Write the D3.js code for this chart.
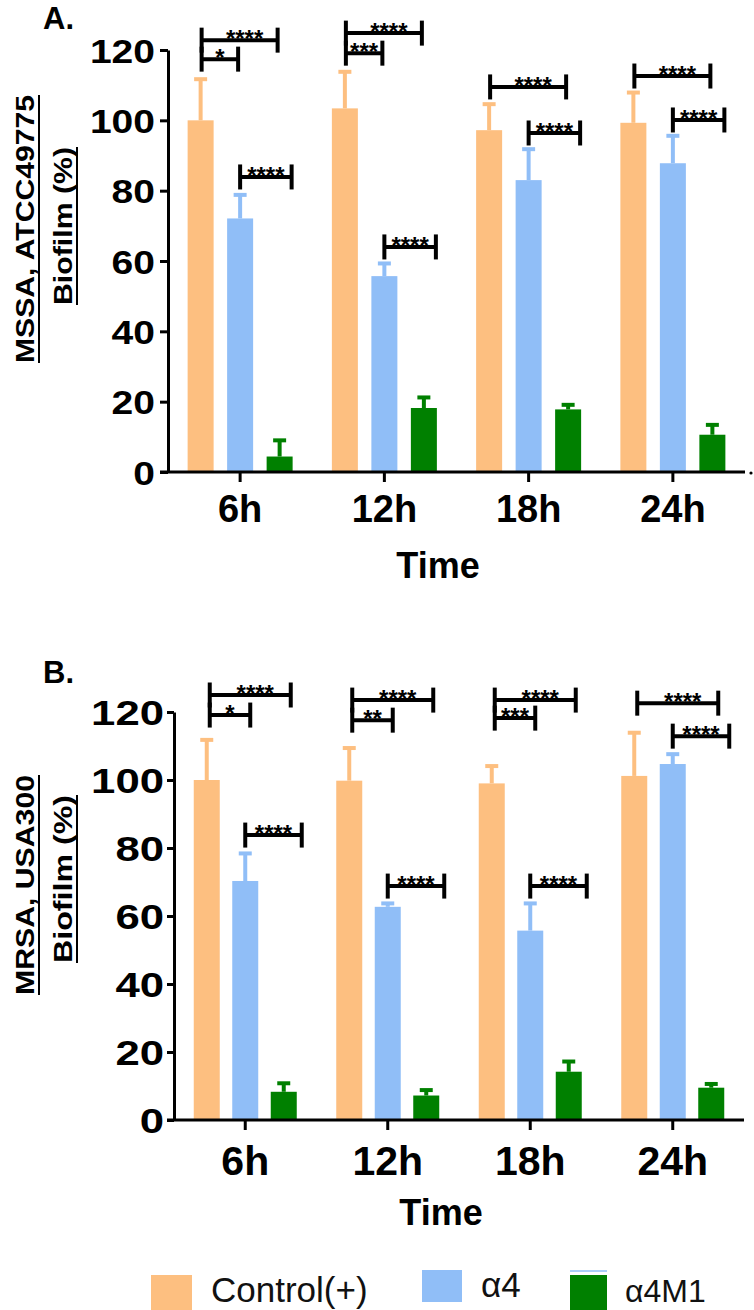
<!DOCTYPE html>
<html>
<head>
<meta charset="utf-8">
<script src="https://cdn.jsdelivr.net/npm/d3@7"></script>
<style>
  html, body { margin: 0; padding: 0; background: #fff; }
  svg { display: block; }
  text { font-family: "Liberation Sans", Arial, Helvetica, sans-serif; }
</style>
</head>
<body>
<div id="chart"></div>
<script>
// ---------------- DATA ----------------
const times = ["6h", "12h", "18h", "24h"];
const seriesNames = ["Control(+)", "\u03B14", "\u03B14M1"];
const seriesColors = ["#FDBF80", "#90BEF7", "#008000"];
const yTicks = [0, 20, 40, 60, 80, 100, 120];

// Panel A: MSSA, ATCC49775
const mssaControl    = [100.0, 103.4, 97.2, 99.3];
const mssaControlErr = [11.7, 10.4, 7.4, 8.6];
const mssaA4         = [72.1, 55.7, 83.0, 87.8];
const mssaA4Err      = [6.7, 3.6, 8.8, 7.8];
const mssaA4M1       = [4.4, 18.2, 17.8, 10.6];
const mssaA4M1Err    = [4.6, 3.0, 1.3, 2.8];

// Panel B: MRSA, USA300
const mrsaControl    = [100.0, 99.8, 99.0, 101.2];
const mrsaControlErr = [11.8, 9.6, 5.1, 12.7];
const mrsaA4         = [70.3, 62.7, 55.7, 104.7];
const mrsaA4Err      = [8.1, 1.0, 8.0, 2.9];
const mrsaA4M1       = [8.3, 7.2, 14.2, 9.5];
const mrsaA4M1Err    = [2.5, 1.6, 3.0, 1.1];

// significance brackets: group, series from -> to, height (value units), label
const mssaBrackets = [
  { time: "6h",  from: 0, to: 2, y: 122.8, label: "****" },
  { time: "6h",  from: 0, to: 1, y: 117.4, label: "*" },
  { time: "6h",  from: 1, to: 2, y: 83.9,  label: "****" },
  { time: "12h", from: 0, to: 2, y: 124.8, label: "****" },
  { time: "12h", from: 0, to: 1, y: 119.1, label: "***" },
  { time: "12h", from: 1, to: 2, y: 64.0,  label: "****" },
  { time: "18h", from: 0, to: 2, y: 109.5, label: "****" },
  { time: "18h", from: 1, to: 2, y: 96.4,  label: "****" },
  { time: "24h", from: 0, to: 2, y: 112.6, label: "****" },
  { time: "24h", from: 1, to: 2, y: 100.1, label: "****" }
];
const mrsaBrackets = [
  { time: "6h",  from: 0, to: 2, y: 125.0, label: "****" },
  { time: "6h",  from: 0, to: 1, y: 119.1, label: "*" },
  { time: "6h",  from: 1, to: 2, y: 83.8,  label: "****" },
  { time: "12h", from: 0, to: 2, y: 123.5, label: "****" },
  { time: "12h", from: 0, to: 1, y: 117.6, label: "**" },
  { time: "12h", from: 1, to: 2, y: 68.8,  label: "****" },
  { time: "18h", from: 0, to: 2, y: 123.5, label: "****" },
  { time: "18h", from: 0, to: 1, y: 118.2, label: "***" },
  { time: "18h", from: 1, to: 2, y: 68.8,  label: "****" },
  { time: "24h", from: 0, to: 2, y: 122.6, label: "****" },
  { time: "24h", from: 1, to: 2, y: 112.9, label: "****" }
];

// ---------------- DRAWING ----------------
const W = 754, H = 1310;
const svg = d3.select("#chart").append("svg")
  .attr("width", W).attr("height", H)
  .attr("viewBox", `0 0 ${W} ${H}`);
svg.append("rect").attr("width", W).attr("height", H).attr("fill", "#fff");

function drawPanel(cfg) {
  const g = svg.append("g");
  const x = d3.scaleBand().domain(times).range([cfg.x0, cfg.x1]);
  const y = d3.scaleLinear().domain([0, 120]).range([cfg.yZero, cfg.yTop]);
  const cx = t => x(t) + x.bandwidth() / 2;
  const sx = (t, i) => cx(t) + (i - 1) * cfg.off;

  const series = [
    { mean: cfg.s0, err: cfg.e0 },
    { mean: cfg.s1, err: cfg.e1 },
    { mean: cfg.s2, err: cfg.e2 }
  ];

  // error bars (upper only)
  series.forEach((s, i) => {
    const eg = g.append("g").attr("stroke", seriesColors[i]).attr("stroke-width", 4);
    eg.selectAll("line.stem").data(times).join("line")
      .attr("class", "stem")
      .attr("x1", (t) => sx(t, i)).attr("x2", (t) => sx(t, i))
      .attr("y1", (t, j) => y(s.mean[j]))
      .attr("y2", (t, j) => y(s.mean[j] + s.err[j]));
    eg.selectAll("line.cap").data(times).join("line")
      .attr("class", "cap")
      .attr("x1", (t) => sx(t, i) - 6.5).attr("x2", (t) => sx(t, i) + 6.5)
      .attr("y1", (t, j) => y(s.mean[j] + s.err[j]))
      .attr("y2", (t, j) => y(s.mean[j] + s.err[j]));
  });

  // bars
  series.forEach((s, i) => {
    g.append("g").selectAll("rect").data(times).join("rect")
      .attr("x", (t) => sx(t, i) - cfg.bw / 2)
      .attr("width", cfg.bw)
      .attr("y", (t, j) => y(s.mean[j]))
      .attr("height", (t, j) => y(0) - y(s.mean[j]))
      .attr("fill", seriesColors[i]);
  });

  // y axis
  const ya = g.append("g").attr("transform", `translate(${cfg.x0},0)`)
    .call(d3.axisLeft(y).tickValues(yTicks).tickSize(cfg.tickLen).tickSizeOuter(0).tickPadding(cfg.pad));
  ya.select(".domain").attr("stroke", "#000").attr("stroke-width", 3);
  ya.selectAll(".tick line").attr("stroke", "#000").attr("stroke-width", 3);
  ya.selectAll(".tick text")
    .attr("fill", "#000")
    .attr("font-size", cfg.yFont)
    .attr("font-weight", "bold")
    .attr("dy", "0.36em")
    .attr("textLength", d => String(d).length * cfg.digitW)
    .attr("lengthAdjust", "spacingAndGlyphs");

  // x axis
  g.append("line")
    .attr("x1", cfg.x0 - cfg.tickLen).attr("x2", cfg.x1)
    .attr("y1", cfg.yZero).attr("y2", cfg.yZero)
    .attr("stroke", "#000").attr("stroke-width", 3);
  const xa = g.append("g").attr("transform", `translate(0,${cfg.yZero})`)
    .call(d3.axisBottom(x).tickSize(10).tickSizeOuter(0));
  xa.select(".domain").remove();
  xa.selectAll(".tick line").attr("stroke", "#000").attr("stroke-width", 3);
  xa.selectAll(".tick text")
    .attr("fill", "#000")
    .attr("font-size", cfg.xFont)
    .attr("font-weight", "bold")
    .attr("y", cfg.xLabDy).attr("dy", 0);

  if (cfg.dot) {
    g.append("circle").attr("cx", cfg.x1 + 6).attr("cy", cfg.yZero + 1).attr("r", 1.6).attr("fill", "#000");
  }

  // x title
  g.append("text")
    .attr("x", cfg.timeX).attr("y", cfg.timeY)
    .attr("text-anchor", "middle")
    .attr("font-size", 36).attr("font-weight", "bold")
    .text("Time");

  // y title (two underlined lines)
  cfg.yTitle.forEach((ln) => {
    g.append("text")
      .attr("transform", `translate(${ln.bx},${ln.cy}) rotate(-90)`)
      .attr("text-anchor", "middle")
      .attr("font-size", 26).attr("font-weight", "bold")
      .attr("textLength", ln.len).attr("lengthAdjust", "spacingAndGlyphs")
      .text(ln.text);
    g.append("line")
      .attr("x1", ln.bx + 5).attr("x2", ln.bx + 5)
      .attr("y1", ln.cy - ln.len / 2).attr("y2", ln.cy + ln.len / 2)
      .attr("stroke", "#000").attr("stroke-width", 2);
  });

  // panel letter
  g.append("text")
    .attr("x", 43).attr("y", cfg.letterY)
    .attr("font-size", 31).attr("font-weight", "bold")
    .text(cfg.letter);

  // significance brackets
  const bg = g.append("g");
  cfg.brackets.forEach(b => {
    let xl, xr;
    if (b.from === 0) {
      xl = sx(b.time, 0) + cfg.bl;
      xr = b.to === 2 ? sx(b.time, 2) + cfg.bUpper : sx(b.time, 1) + cfg.bInner;
    } else {
      xl = sx(b.time, 1);
      xr = sx(b.time, 2) + cfg.bLower;
    }
    const yy = y(b.y);
    const h = 12.5;
    bg.append("line").attr("x1", xl).attr("x2", xr).attr("y1", yy).attr("y2", yy)
      .attr("stroke", "#000").attr("stroke-width", 4);
    bg.append("line").attr("x1", xl).attr("x2", xl).attr("y1", yy - h).attr("y2", yy + h)
      .attr("stroke", "#000").attr("stroke-width", 4);
    bg.append("line").attr("x1", xr).attr("x2", xr).attr("y1", yy - h).attr("y2", yy + h)
      .attr("stroke", "#000").attr("stroke-width", 4);
    const shift = (b.from === 0 && b.to === 2) ? 5 : 0;
    bg.append("text")
      .attr("x", (xl + xr) / 2 + shift).attr("y", yy + 7)
      .attr("text-anchor", "middle")
      .attr("font-size", 24).attr("font-weight", "bold")
      .text(b.label);
  });
}

drawPanel({
  x0: 168, x1: 745, yZero: 472, yTop: 50, off: 39.5, bw: 26,
  tickLen: 8, pad: 5, yFont: 34, digitW: 21.7, xFont: 38, xLabDy: 50,
  timeX: 438, timeY: 578, dot: true,
  s0: mssaControl, e0: mssaControlErr, s1: mssaA4, e1: mssaA4Err, s2: mssaA4M1, e2: mssaA4M1Err,
  yTitle: [
    { text: "MSSA, ATCC49775", bx: 34, cy: 229, len: 268 },
    { text: "Biofilm (%)", bx: 72, cy: 226, len: 158 }
  ],
  letter: "A.", letterY: 29,
  brackets: mssaBrackets, bl: 1, bUpper: -2, bInner: -2, bLower: 12
});

drawPanel({
  x0: 174, x1: 744, yZero: 1120, yTop: 712, off: 38.5, bw: 26,
  tickLen: 7, pad: 3, yFont: 35, digitW: 24.3, xFont: 41, xLabDy: 55,
  timeX: 441, timeY: 1225, dot: false,
  s0: mrsaControl, e0: mrsaControlErr, s1: mrsaA4, e1: mrsaA4Err, s2: mrsaA4M1, e2: mrsaA4M1Err,
  yTitle: [
    { text: "MRSA, USA300", bx: 34, cy: 885, len: 220 },
    { text: "Biofilm (%)", bx: 72, cy: 879, len: 168 }
  ],
  letter: "B.", letterY: 683,
  brackets: mrsaBrackets, bl: 3, bUpper: 7, bInner: 5, bLower: 18
});

// ---------------- LEGEND ----------------
const legendItems = seriesNames.map((n, i) => ({ name: n, color: seriesColors[i] }));
const legendPos = [
  { rx: 151, ry: 1275, rw: 41, rh: 35, tx: 211, ty: 1302, fs: 35 },
  { rx: 422, ry: 1270, rw: 40, rh: 32, tx: 481, ty: 1297, fs: 35 },
  { rx: 570, ry: 1275, rw: 37, rh: 35, tx: 625, ty: 1302, fs: 32 }
];
const lg = svg.append("g");
legendItems.forEach((d, i) => {
  const p = legendPos[i];
  lg.append("rect").attr("x", p.rx).attr("y", p.ry).attr("width", p.rw).attr("height", p.rh).attr("fill", d.color);
  lg.append("text").attr("x", p.tx).attr("y", p.ty).attr("font-size", p.fs).attr("fill", "#111").text(d.name);
});
// thin light-blue line above the green key (as in the original)
lg.append("line").attr("x1", legendPos[2].rx).attr("x2", legendPos[2].rx + legendPos[2].rw)
  .attr("y1", legendPos[2].ry - 4).attr("y2", legendPos[2].ry - 4)
  .attr("stroke", seriesColors[1]).attr("stroke-width", 1.5);
</script>
</body>
</html>
